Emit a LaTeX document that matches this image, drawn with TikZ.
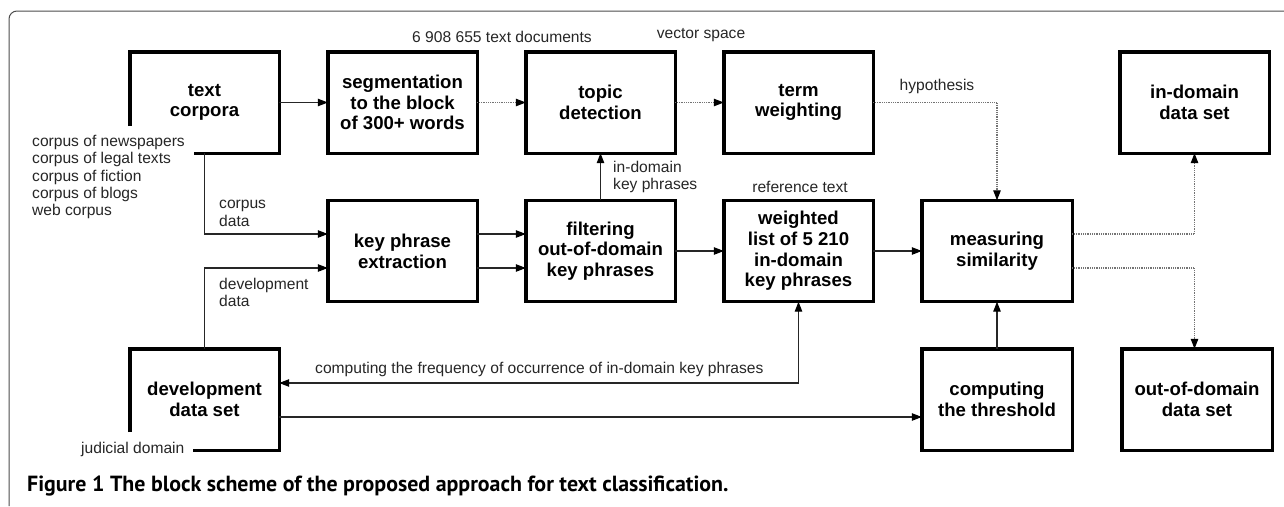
\documentclass[tikz,border=0pt]{standalone}
\usepackage{fontspec}
\setmainfont{Liberation Sans}
\newfontfamily\capfont{PT Sans}
\usetikzlibrary{arrows.meta,calc}
\begin{document}
\begin{tikzpicture}[x=1pt,y=-1pt,
  blk/.style={minimum width=149pt,minimum height=101pt,inner sep=0pt,align=center,font=\fontsize{18.6}{20.7}\selectfont\bfseries},
  bframe/.style={line width=3.4pt,line join=miter},
  lbl/.style={font=\fontsize{15.6}{17.3}\selectfont,inner sep=0pt,text=black!85},
  tip/.tip={Triangle[length=10pt,width=7.5pt,color=black]},
  con/.style={line width=1.1pt,black!85,-tip},
  dotc/.style={line width=1.1pt,black!55,dash pattern=on 1pt off 0.8pt,-tip},
  outer/.style={line width=1pt,black!70,rounded corners=8pt}]
\useasboundingbox (0,0) rectangle (1284,506);
\draw[outer] (1284,11) -- (9,11) -- (9,506);
% boxes
\node[blk] (tc) at (204.5,102.5) {text\\corpora};
\node[blk] (seg) at (402.5,102.5) {segmentation\\to the block\\of 300+ words};
\node[blk] (topic) at (600.5,102.5) {topic\\detection};
\node[blk] (term) at (798.5,102.5) {term\\weighting};
\node[blk] (indom) at (1194.5,102.5) {in-domain\\data set};
\node[blk] (kpe) at (402.5,251) {key phrase\\extraction};
\node[blk] (filt) at (600.5,251) {filtering\\out-of-domain\\key phrases};
\node[blk] (wl) at (798.5,251) {weighted\\list of 5 210\\in-domain\\key phrases};
\node[blk,minimum width=150pt] (ms) at (997,251) {measuring\\similarity};
\node[blk] (dev) at (204.5,399.5) {development\\data set};
\node[blk,minimum width=150pt] (thr) at (997,399.5) {computing\\the threshold};
\node[blk,minimum width=150pt] (ood) at (1197,399.5) {out-of-domain\\data set};
% frames
\draw[bframe] (tc.west |- 0,126) -- (tc.north west) -- (tc.north east) -- (tc.south east) -- (tc.south -| 194,0);
\draw[bframe] (dev.west |- 0,432) -- (dev.north west) -- (dev.north east) -- (dev.south east) -- (dev.south -| 193,0);
\foreach \n in {seg,topic,term,indom,kpe,filt,wl,ms,thr,ood}
  \draw[bframe] (\n.north west) rectangle (\n.south east);
% labels
\node[lbl] (l1) at (502,37) {6 908 655 text documents};
\node[lbl] (l2) at (701,35) {vector space};
\node[lbl] (l3) at (937,86) {hypothesis};
\node[lbl,anchor=west,align=left] (l4) at (613,177) {in-domain\\key phrases};
\node[lbl] (l5) at (800,187) {reference text};
\node[lbl,anchor=west,align=left] (l6) at (219,213.5) {corpus\\data};
\node[lbl,anchor=west,align=left] (l7) at (219,292.5) {development\\data};
\node[lbl,anchor=west] (l8) at (315,369) {computing the frequency of occurrence of in-domain key phrases};
\node[lbl,anchor=west,align=left] (l9) at (32,177) {corpus of newspapers\\corpus of legal texts\\corpus of fiction\\corpus of blogs\\web corpus};
\node[lbl,anchor=west] (l10) at (81,449) {judicial domain};
\node[anchor=base west,inner sep=0pt,font=\capfont\fontsize{21.9}{26}\selectfont\bfseries] (cap) at (27,491) {Figure 1 The block scheme of the proposed approach for text classification.};
% connectors
\draw[con] (tc.east) -- (seg.west);
\draw[dotc] (seg.east) -- (topic.west);
\draw[dotc] (topic.east) -- (term.west);
\draw[dotc] (term.east) -| (ms.north);
\draw[dotc] ($(ms.east)+(0,-17)$) -| (indom.south);
\draw[dotc] ($(ms.east)+(0,17)$) -| (indom.south |- ood.north);
\draw[con] (tc.south) |- ($(kpe.west)+(0,-17)$);
\draw[con] (dev.north) |- ($(kpe.west)+(0,17)$);
\draw[con] ($(kpe.east)+(0,-17)$) -- ($(filt.west)+(0,-17)$);
\draw[con] ($(kpe.east)+(0,17)$) -- ($(filt.west)+(0,17)$);
\draw[con] (filt.north) -- (topic.south);
\draw[con] (filt.east) -- (wl.west);
\draw[con] (wl.east) -- (ms.west);
\draw[con,tip-tip] ($(dev.east)+(0,-16.5)$) -| (wl.south);
\draw[con] ($(dev.east)+(0,17.5)$) -- (thr.west |- 0,417);
\draw[con] (thr.north) -- (ms.south);
\end{tikzpicture}
\end{document}
